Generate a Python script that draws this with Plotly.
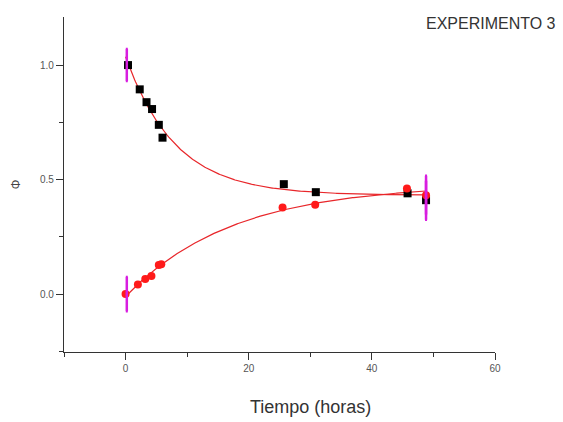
import numpy as np
import plotly.graph_objects as go

# Sampling times (hours) and measured fractions
t_dec = [0.4, 2.3, 3.4, 4.3, 5.4, 6.0, 25.7, 30.9, 45.8, 48.8]
phi_dec = [1.00, 0.894, 0.838, 0.808, 0.739, 0.683, 0.480, 0.445, 0.440, 0.410]

t_inc = [0.0, 2.0, 3.2, 4.2, 5.4, 5.8, 25.5, 30.8, 45.7, 48.8]
phi_inc = [0.00, 0.042, 0.066, 0.079, 0.127, 0.130, 0.378, 0.390, 0.461, 0.432]

# Uncertainty shown on the first and last samples
err_t = [0.2, 48.8]
err_dec_phi = [1.00, 0.410]
err_dec = [0.07, 0.085]
err_inc_phi = [0.00, 0.432]
err_inc = [0.075, 0.085]


def exp_fit(t, y):
    """Least-squares fit of y = a + b*exp(-t/tau); returns a smooth curve."""
    t = np.asarray(t, float)
    y = np.asarray(y, float)
    best = None
    for tau in np.linspace(1.0, 40.0, 800):
        e = np.exp(-t / tau)
        M = np.column_stack([np.ones_like(t), e])
        coef, *_ = np.linalg.lstsq(M, y, rcond=None)
        r = np.sum((M @ coef - y) ** 2)
        if best is None or r < best[0]:
            best = (r, tau, coef)
    _, tau, (a, b) = best
    tt = np.linspace(0.0, t.max(), 300)
    return tt, a + b * np.exp(-tt / tau)


fx_dec, fy_dec = exp_fit(t_dec, phi_dec)
fx_inc, fy_inc = exp_fit(t_inc, phi_inc)

FONT = "Liberation Sans, Arial"

fig = go.Figure()

fig.add_trace(go.Scatter(x=fx_dec, y=fy_dec, mode="lines",
                         line=dict(color="#e8262a", width=1.2), hoverinfo="skip"))
fig.add_trace(go.Scatter(x=fx_inc, y=fy_inc, mode="lines",
                         line=dict(color="#e8262a", width=1.2), hoverinfo="skip"))

fig.add_trace(go.Scatter(x=t_dec, y=phi_dec, mode="markers",
                         marker=dict(symbol="square", size=8, color="black")))
fig.add_trace(go.Scatter(x=t_inc, y=phi_inc, mode="markers",
                         marker=dict(symbol="circle", size=8, color="#ff1a1a")))

for ys, es in ((err_dec_phi, err_dec), (err_inc_phi, err_inc)):
    fig.add_trace(go.Scatter(
        x=err_t, y=ys, mode="markers",
        marker=dict(size=1, color="rgba(0,0,0,0)"),
        error_y=dict(type="data", array=es, visible=True,
                     color="#d81ee0", thickness=2.5, width=1),
        hoverinfo="skip"))

axis_common = dict(showline=True, linecolor="#333", linewidth=1.2,
                   ticks="outside", tickcolor="#333", ticklen=7, tickwidth=1.2,
                   showgrid=False, zeroline=False, automargin=False,
                   tickfont=dict(family=FONT, size=10, color="#555"))

fig.update_xaxes(range=[-10, 60], dtick=20, tick0=0,
                 minor=dict(dtick=10, ticklen=4, tickcolor="#333", ticks="outside"),
                 **axis_common)
fig.update_yaxes(range=[-0.253, 1.21], dtick=0.5, tick0=0, tickformat=".1f",
                 minor=dict(dtick=0.25, ticklen=4, tickcolor="#333", ticks="outside"),
                 title=dict(text="Φ", standoff=16,
                            font=dict(family=FONT, size=12, color="#444")),
                 **axis_common)

fig.add_annotation(text="Tiempo (horas)", xref="paper", yref="paper",
                   x=0.571, y=-0.164, xanchor="center", yanchor="middle", showarrow=False,
                   font=dict(family=FONT, size=18, color="#333"))

fig.add_annotation(text="EXPERIMENTO 3", xref="paper", yref="paper",
                   x=1.146, y=0.982, xanchor="right", yanchor="middle", showarrow=False,
                   font=dict(family=FONT, size=16, color="#333"))

fig.update_layout(width=563, height=422, showlegend=False,
                  margin=dict(l=64, r=68, t=17, b=70),
                  paper_bgcolor="white", plot_bgcolor="white")

fig.write_html("out.html")
